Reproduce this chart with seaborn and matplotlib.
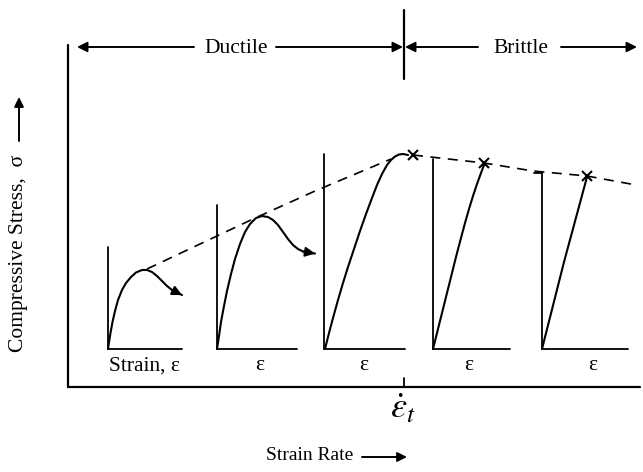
import matplotlib
matplotlib.use("Agg")
import matplotlib.pyplot as plt
import seaborn as sns
import pandas as pd

sns.set_theme(style="white")
plt.rcParams['font.family'] = ['Liberation Serif', 'DejaVu Serif']
plt.rcParams['mathtext.fontset'] = 'stix'

# ---- data (diagram units; y grows downward) ----
panel_x0 = [108, 217, 324, 433, 542]
panel_top = [247, 205, 154, 159, 173]
panel_xend = [182, 297, 405, 510, 628]
base_y = 349
panel_labels = ["Strain, ε", "ε", "ε", "ε", "ε"]
label_x = [144, 260, 364, 469, 593]

curve1_x = [108, 109, 110.5, 112.5, 115, 118, 122, 126, 131, 136, 142, 147, 152, 157, 162, 167, 172, 177, 182]
curve1_y = [349, 342, 333, 322, 311, 300, 290, 283, 277, 272.5, 270, 270, 272, 276, 281, 286, 290, 293, 295]
curve2_x = [217, 219, 221, 224, 227, 231, 235, 240, 245, 250, 256, 262, 268, 273, 278, 283, 288, 293, 298, 303, 309, 315]
curve2_y = [349, 336, 322, 306, 291, 274, 259, 244, 232, 224, 218, 216, 217, 220, 225, 232, 239, 245, 249, 251.5, 253, 253.5]
curve3_x = [325, 329, 333, 338, 343, 348, 354, 360, 366, 372, 377, 382, 387, 391, 395, 399, 403, 408]
curve3_y = [349, 333, 318, 300, 283, 267, 249, 231, 214, 198, 185, 174, 165, 160, 156.5, 154.5, 154, 155]
curve4_x = [433, 437, 441, 445, 449, 453, 457, 461, 465, 469, 473, 477, 481, 484]
curve4_y = [349, 333, 317, 301, 285, 269, 253, 238, 223, 209, 196, 184, 173, 165]
curve5_x = [542, 564, 587]
curve5_y = [349, 262, 177]

fail_x = [413, 484, 587]
fail_y = [155, 163, 176]

envelope_duct_x = [147, 253, 315, 391]
envelope_duct_y = [269, 219, 191, 159]
envelope_brit_x = [413, 484, 533, 587, 636]
envelope_brit_y = [155, 163, 171, 176, 185]

fig = plt.figure(figsize=(6.43, 4.72), dpi=100)
ax = fig.add_axes([0, 0, 1, 1])
ax.set_xlim(0, 643)
ax.set_ylim(472, 0)
ax.axis("off")

lw = 1.5
k = "black"

# main axes
ax.plot([68, 68], [45, 387], color=k, lw=1.6)
ax.plot([68, 640], [387, 387], color=k, lw=1.6)
ax.plot([404, 404], [378, 387], color=k, lw=1.3)
ax.plot([404, 404], [10, 79], color=k, lw=1.6)

# panels
for x0, top, xe, lab, lx in zip(panel_x0, panel_top, panel_xend, panel_labels, label_x):
    ax.plot([x0, x0], [top, base_y], color=k, lw=1.3)
    ax.plot([x0, xe], [base_y, base_y], color=k, lw=1.3)
    ax.text(lx, 366, lab, ha="center", va="center", fontsize=15.5, color=k)
ax.plot([534, 542], [173, 173], color=k, lw=1.3)

curves = [(curve1_x, curve1_y), (curve2_x, curve2_y), (curve3_x, curve3_y),
          (curve4_x, curve4_y), (curve5_x, curve5_y)]
for cx, cy in curves:
    df = pd.DataFrame({"x": cx, "y": cy})
    sns.lineplot(data=df, x="x", y="y", sort=False, estimator=None, color=k, lw=lw, ax=ax)

# arrow heads on softening curves
for cx, cy in curves[:2]:
    ax.annotate("", xy=(cx[-1], cy[-1]), xytext=(cx[-3], cy[-3]),
                arrowprops=dict(arrowstyle="-|>", color=k, lw=lw, mutation_scale=14,
                                shrinkA=0, shrinkB=0))

# envelope
sns.lineplot(x=envelope_duct_x, y=envelope_duct_y, sort=False, estimator=None,
             color=k, lw=1.2, ax=ax, linestyle=(0, (6, 4.5)))
sns.lineplot(x=envelope_brit_x, y=envelope_brit_y, sort=False, estimator=None,
             color=k, lw=1.2, ax=ax, linestyle=(0, (6, 4.5)))
ax.plot(fail_x, fail_y, linestyle="none", marker="x", color=k, markersize=7, mew=1.5)
ax.set_xlabel("")
ax.set_ylabel("")

# regime arrows
def harrow(x_from, x_to, y, ms=15):
    ax.annotate("", xy=(x_to, y), xytext=(x_from, y),
                arrowprops=dict(arrowstyle="-|>", color=k, lw=1.4, mutation_scale=ms,
                                shrinkA=0, shrinkB=0))

harrow(194, 77, 47)
harrow(276, 403, 47)
ax.text(236, 48.5, "Ductile", ha="center", va="center", fontsize=15.5, color=k)
harrow(478, 405, 47)
harrow(561, 637, 47)
ax.text(521, 48.5, "Brittle", ha="center", va="center", fontsize=15.5, color=k)

# axis labels
ax.text(403, 410, r"$\dot{\varepsilon}_t$", ha="center", va="center", fontsize=26, color=k)
ax.text(310, 456, "Strain Rate", ha="center", va="center", fontsize=14, color=k)
harrow(362, 407, 457, ms=14)
ax.text(19, 253, "Compressive Stress,  σ", ha="center", va="center", rotation=90,
        fontsize=15.5, color=k)
ax.annotate("", xy=(19, 97), xytext=(19, 141),
            arrowprops=dict(arrowstyle="-|>", color=k, lw=1.4, mutation_scale=14,
                            shrinkA=0, shrinkB=0))

fig.savefig("out.png", dpi=100)
